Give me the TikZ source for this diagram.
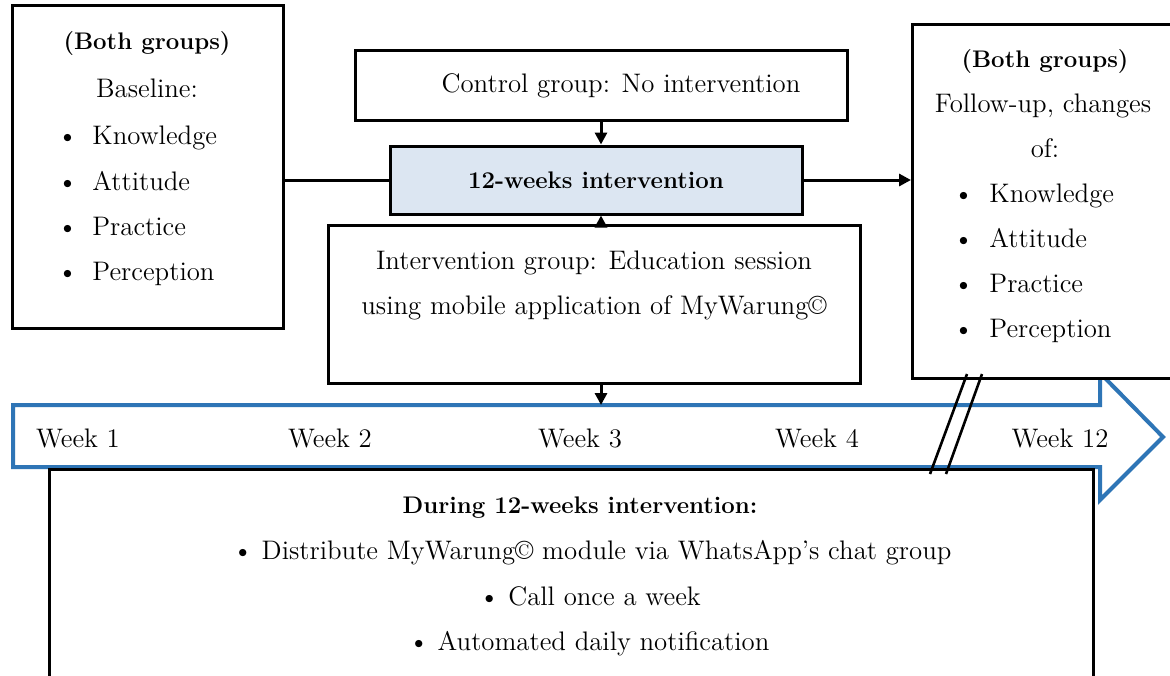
\documentclass[tikz,border=0pt]{standalone}
\usetikzlibrary{arrows.meta}
\definecolor{tlblue}{HTML}{2E75B6}
\definecolor{boxfill}{HTML}{DCE6F2}
\begin{document}
\begin{tikzpicture}[x=0.5pt,y=-0.5pt,
  box/.style={draw=black,line width=1.5pt,fill=white,rectangle,inner sep=0pt},
  txt/.style={font=\fontsize{13.4}{15}\selectfont,inner sep=0pt,anchor=mid,yshift=-1.5pt},
  btxt/.style={txt,font=\fontsize{12}{14}\selectfont\bfseries},
  item/.style={txt,anchor=mid west},
  conn/.style={line width=1.5pt},
  arr/.style={conn,-{Triangle[length=6pt,width=6pt]}},
  brk/.style={line width=1.3pt}]
\useasboundingbox (0,0) rectangle (1170,675);
\clip (0,0) rectangle (1170,675);
\fill[white] (0,0) rectangle (1170,675);

% timeline arrow
\draw[tlblue,line width=2pt,fill=white,line join=miter]
  (13,405) -- (1100,405) -- (1100,373) -- (1163,437) -- (1100,500) -- (1100,467) -- (13,467) -- cycle;
\coordinate (tltop) at (601,405);
\node[txt] (w1) at (78,440) {Week 1};
\node[txt] (w2) at (330,440) {Week 2};
\node[txt] (w3) at (580,440) {Week 3};
\node[txt] (w4) at (817,440) {Week 4};
\node[txt] (w12) at (1060,440) {Week 12};

% bottom box
\node[box,fill=none,minimum width=522pt,minimum height=115pt,anchor=north west] (during) at (48,468) {};
\node[btxt] (d0) at (580,506) {During 12-weeks intervention:};
\node[txt] (d1) at (592,552) {\textbullet\ Distribute MyWarung\textcopyright\ module via WhatsApp's chat group};
\node[txt] (d2) at (590,598) {\textbullet\ Call once a week};
\node[txt] (d3) at (589,643) {\textbullet\ Automated daily notification};

% left box
\node[box,minimum width=135.5pt,minimum height=161.5pt] (base) at (147.5,166.5) {};
\node[btxt] (bh) at (147,42) {(Both groups)};
\node[txt] (bl) at (147,90) {Baseline:};
\foreach \t/\yy/\n in {Knowledge/137/1,Attitude/183/2,Practice/228/3,Perception/273/4}
  \node[item] (bi\n) at (57,\yy) {\makebox[17.5pt][l]{\textbullet}\t};

% right box
\node[box,minimum width=140pt,minimum height=177pt,anchor=north west] (follow) at (911,23) {};
\node[btxt] (fh) at (1045,60) {(Both groups)};
\node[txt] (fl1) at (1043,105) {Follow-up, changes};
\node[txt] (fl2) at (1045,150) {of:};
\foreach \t/\yy/\n in {Knowledge/195/1,Attitude/240/2,Practice/285/3,Perception/330/4}
  \node[item] (fi\n) at (953,\yy) {\makebox[18pt][l]{\textbullet}\t};

% control box
\node[box,minimum width=246pt,minimum height=35pt] (ctrl) at (601,85) {};
\node[txt] (ct) at (621,85) {Control group: No intervention};

% 12-weeks box
\node[box,fill=boxfill,minimum width=206pt,minimum height=34pt] (twelve) at (596,180) {};
\node[btxt] (tw) at (596,181) {12-weeks intervention};

% intervention box
\node[box,minimum width=266pt,minimum height=79pt] (interv) at (594,304) {};
\node[txt] (it1) at (594,262) {Intervention group: Education session};
\node[txt] (it2) at (594,307) {using mobile application of MyWarung\textcopyright};

% connectors
\draw[arr] (ctrl.south -| 601,0) -- (twelve.north -| 601,0);
\draw[arr] (interv.north -| 601,0) -- (twelve.south -| 601,0);
\draw[arr] (interv.south -| 601,0) -- (tltop);
\draw[conn] (base.east |- twelve.west) -- (twelve.west);
\draw[arr] (twelve.east) -- (follow.west |- twelve.east);

% break marks
\coordinate (k1a) at (967,374);
\coordinate (k1b) at (930,474);
\coordinate (k2a) at (982,374);
\coordinate (k2b) at (946,474);
\draw[brk] (k1a) -- (k1b);
\draw[brk] (k2a) -- (k2b);
\end{tikzpicture}
\end{document}
